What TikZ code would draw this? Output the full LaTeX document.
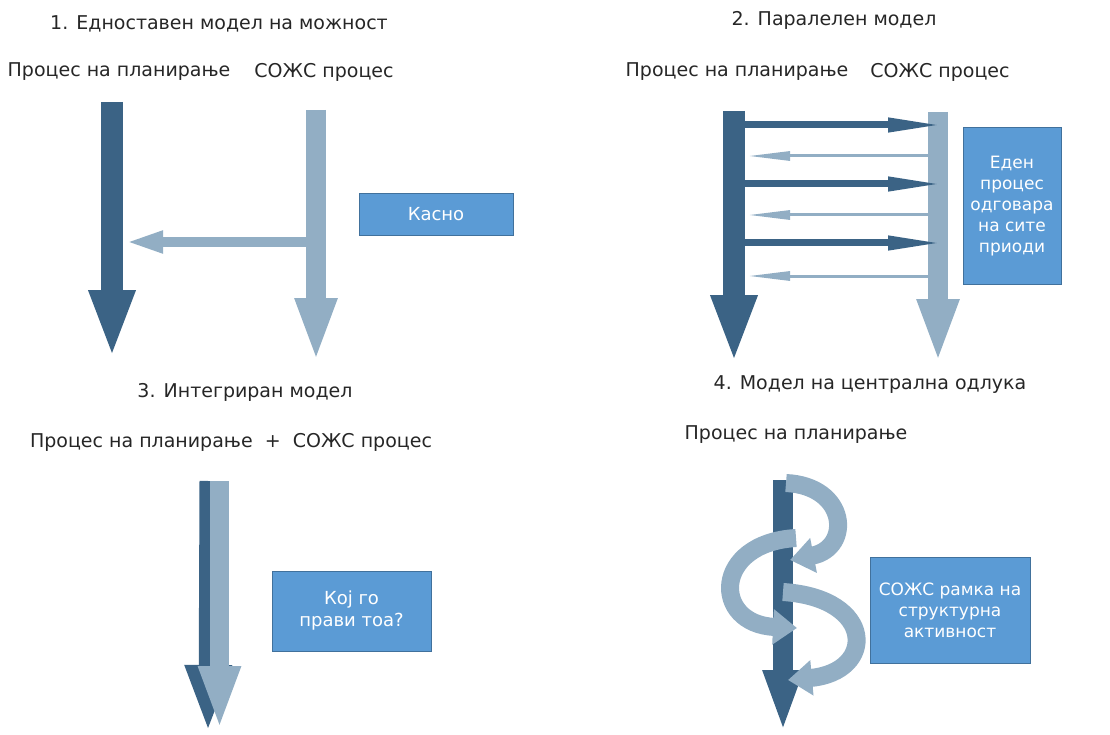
\documentclass[tikz,border=0pt]{standalone}
\usepackage{fontspec}
\setmainfont{DejaVu Sans}
\usetikzlibrary{arrows.meta,positioning}
\definecolor{PlanBlue}{RGB}{59,99,133}
\definecolor{SozsBlue}{RGB}{146,174,196}
\definecolor{NoteBlue}{RGB}{91,155,213}
\definecolor{NoteEdge}{RGB}{65,113,156}
\definecolor{Ink}{RGB}{38,38,38}

\begin{document}
\begin{tikzpicture}[x=1pt,y=-1pt]
				\tikzstyle{Caption}	= [text=Ink, font=\fontsize{19}{23}\selectfont, inner sep=0pt]
				\tikzstyle{Note}	= [draw=NoteEdge, fill=NoteBlue, text=white, font=\fontsize{18}{22}\selectfont, align=center, inner sep=0pt]
				\tikzstyle{Plan}	= [PlanBlue, line width=22pt, -{Triangle[length=68pt,width=42pt]}]
				\tikzstyle{Sozs}	= [SozsBlue, line width=20pt, -{Triangle[length=64pt,width=38pt]}]
				\tikzstyle{Late}	= [SozsBlue, line width=10pt, -{Triangle[length=38pt,width=20pt]}]
				\tikzstyle{Push}	= [PlanBlue, line width=7pt, -{Triangle[length=57pt,width=13pt]}]
				\tikzstyle{Reply}	= [SozsBlue, line width=3pt, -{Triangle[length=42pt,width=9pt]}]
				\tikzstyle{Spiral}	= [SozsBlue, line width=18pt, -{Triangle[length=24pt,width=34pt]}]

				\useasboundingbox (0,0) rectangle (1110,735);

				% 1. simple model
				\node (t1) at (219,24) [Caption] {1. Едноставен модел на можност};
				\node (a1) at (119,72) [Caption] {Процес на планирање};
				\node (b1) at (324,72) [Caption] {СОЖС процес};
				\coordinate (a1s) at (112,102);	\coordinate (a1e) at (112,358);
				\coordinate (b1s) at (316,110);	\coordinate (b1e) at (316,362);
				\coordinate (b1m) at (316,242);	\coordinate (a1m) at (125,242);
				\draw[Plan] (a1s) -- (a1e);
				\draw[Sozs] (b1s) -- (b1e);
				\draw[Late] (b1m) -- (a1m);
				\node (n1) at (436,214) [Note, minimum width=154pt, minimum height=42pt] {Касно};

				% 2. parallel model
				\node (t2) at (834,20) [Caption] {2. Паралелен модел};
				\node (a2) at (737,72) [Caption] {Процес на планирање};
				\node (b2) at (940,72) [Caption] {СОЖС процес};
				\coordinate (a2s) at (734,111);	\coordinate (a2e) at (734,363);
				\coordinate (b2s) at (938,112);	\coordinate (b2e) at (938,363);
				\draw[Plan] (a2s) -- (a2e);
				\draw[Sozs] (b2s) -- (b2e);
				\foreach \y in {125,184,243} {
					\coordinate (p\y) at (745,\y);	\coordinate (q\y) at (945,\y);
					\draw[Push] (p\y) -- (q\y);
				}
				\foreach \y in {156,215,276} {
					\coordinate (r\y) at (928,\y);	\coordinate (s\y) at (748,\y);
					\draw[Reply] (r\y) -- (s\y);
				}
				\node (n2) at (1012,206) [Note, font=\fontsize{17}{21}\selectfont, minimum width=98pt, minimum height=157pt] {Еден\\процес\\одговара\\на сите\\приоди};

				% 3. integrated model
				\node (t3) at (245,392) [Caption] {3. Интегриран модел};
				\node (a3) at (231,442) [Caption] {Процес на планирање~~+~~СОЖС процес};
				\coordinate (a3s) at (209,481);	\coordinate (a3e) at (208,733);
				\coordinate (b3s) at (219.5,481);	\coordinate (b3e) at (219.5,730);
				\draw[Plan, line width=19pt] (a3s) -- (a3e);
				\draw[Sozs, line width=19pt] (b3s) -- (b3e);
				\node (n3) at (351.5,611) [Note, minimum width=159pt, minimum height=80pt] {Кој го\\прави тоа?};

				% 4. central decision model
				\node (t4) at (870,385) [Caption] {4. Модел на централна одлука};
				\node (a4) at (796,435) [Caption] {Процес на планирање};
				\coordinate (a4s) at (783,480);	\coordinate (a4e) at (783,733);
				\draw[Plan, line width=20pt, -{Triangle[length=63pt,width=36pt]}] (a4s) -- (a4e);
				\coordinate (c1s) at (786,483);	\coordinate (c1e) at (790,560);
				\coordinate (c2s) at (796,538);	\coordinate (c2e) at (797,628);
				\coordinate (c3s) at (783,592);	\coordinate (c3e) at (788,680);
				\draw[Spiral] (c1s) .. controls (848,486) and (852,548) .. (c1e);
				\draw[Spiral] (c2s) .. controls (712,543) and (712,624) .. (c2e);
				\draw[Spiral] (c3s) .. controls (876,598) and (876,672) .. (c3e);
				\node (n4) at (950,610) [Note, font=\fontsize{17}{21}\selectfont, minimum width=160pt, minimum height=106pt] {СОЖС рамка на\\структурна\\активност};

			\end{tikzpicture}
\end{document}
